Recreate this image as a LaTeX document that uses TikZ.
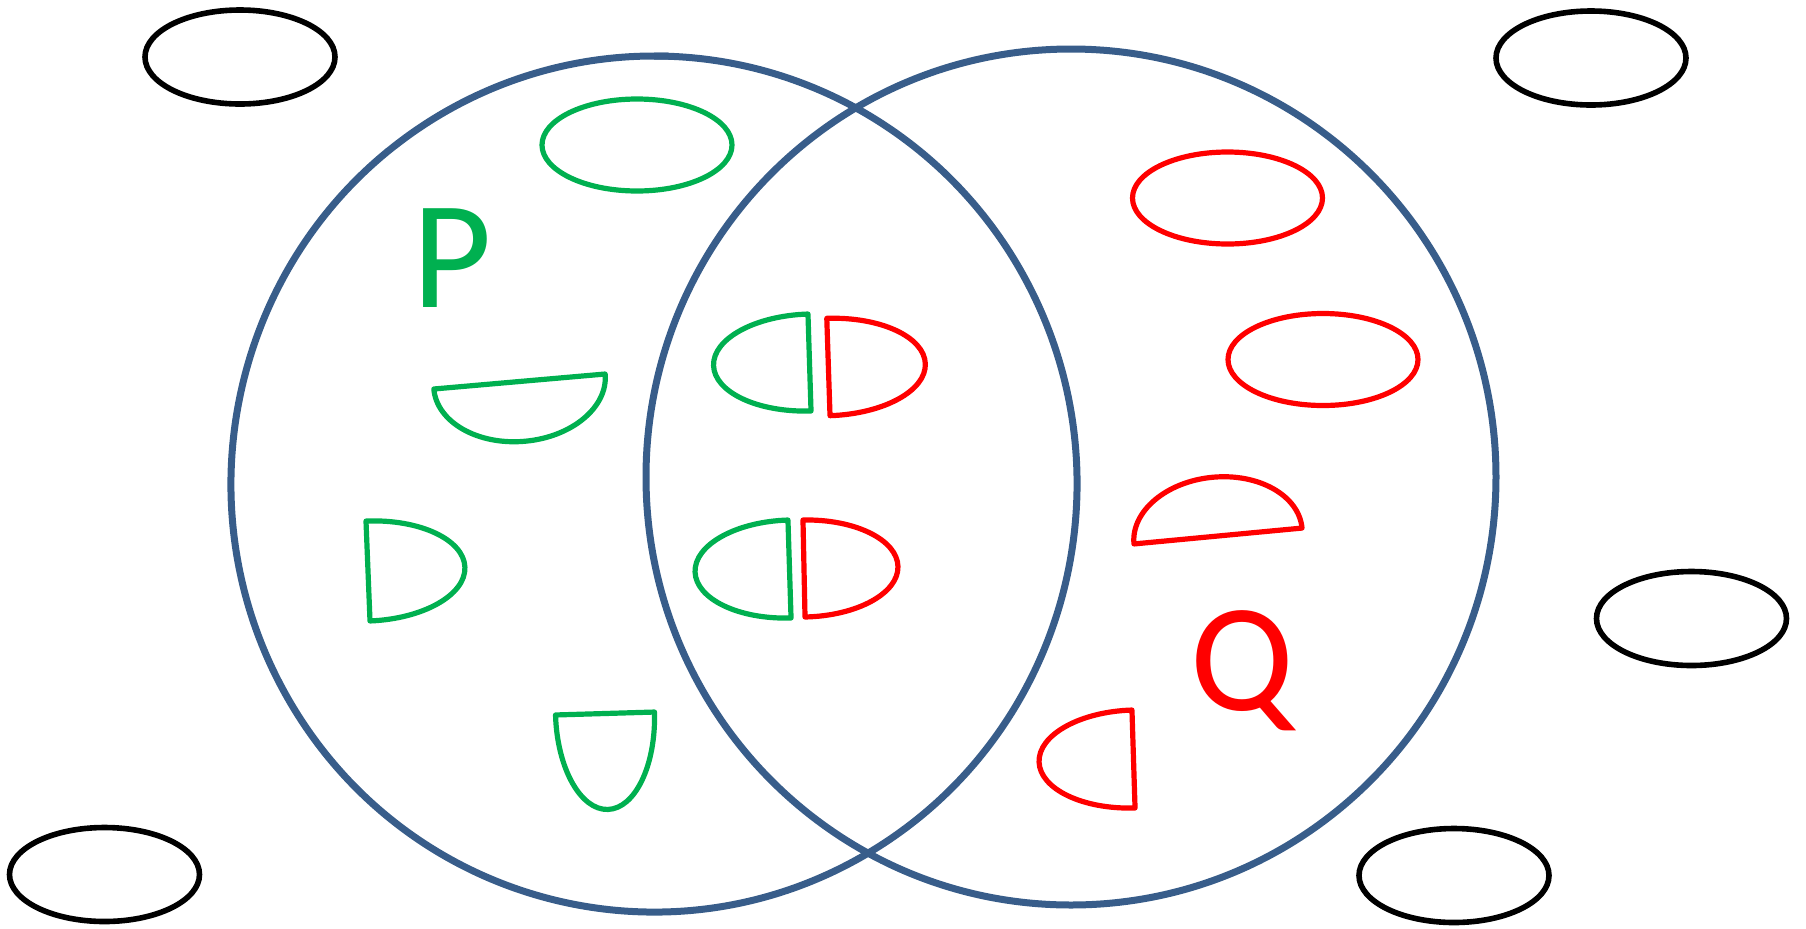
\documentclass[tikz,border=0pt]{standalone}
\usepackage{fontspec}
\setmainfont{Carlito}
\definecolor{vblue}{HTML}{385D8A}
\definecolor{pgreen}{HTML}{00B050}
\definecolor{qred}{HTML}{FF0000}
\tikzset{
 venn/.style={draw=vblue, line width=3.5pt},
 blk/.style={draw=black, line width=2.8pt},
 grn/.style={draw=pgreen, line width=2.6pt, line join=round},
 rd/.style={draw=qred, line width=2.6pt, line join=round},
 lbl/.style={font=\fontsize{77}{80}\selectfont, inner sep=0pt, anchor=base},
}
% #1 style, #2 #3 chord midpoint, #4 rotation, #5 half chord, #6 depth
\newcommand\halfell[6]{\draw[#1, shift={(#2,#3)}, rotate=#4] (#5,0) arc[start angle=0, end angle=180, x radius=#5, y radius=#6] -- cycle;}
\begin{document}
\begin{tikzpicture}[x=0.5pt, y=-0.5pt]
\useasboundingbox (0,0) rectangle (1806,928);
% Venn circles
\coordinate (cP) at (654,484);
\coordinate (cQ) at (1071,477);
\begin{scope}
\clip (0,0) -- (300,0) -- (300,148.5) -- (654,148.5) -- (654,0) -- (1806,0) -- (1806,928) -- (0,928) -- cycle;
\draw[venn] (cP) ++(-120:423 and 428) arc[start angle=-120, end angle=-452, x radius=423, y radius=428];
\end{scope}
\begin{scope}
\clip (300,0) rectangle (700,148.5);
\draw[venn, shift={(5,0)}] (cP) ++(-88:423 and 428) arc[start angle=-88, end angle=-140, x radius=423, y radius=428];
\end{scope}
\draw[venn] (cQ) ellipse[x radius=425, y radius=428];
% black ellipses outside
\draw[blk] (240,57) ellipse[x radius=95, y radius=47];
\draw[blk] (1591,58) ellipse[x radius=95, y radius=47];
\draw[blk] (1691.5,618.5) ellipse[x radius=95, y radius=47];
\draw[blk] (104.5,874.5) ellipse[x radius=95, y radius=47];
\draw[blk] (1454,875.5) ellipse[x radius=95, y radius=47];
% P elements
\draw[grn] (637,145) ellipse[x radius=95, y radius=46];
\halfell{grn}{519.5}{381.5}{5.0}{86}{60}
\halfell{grn}{368}{571}{92.3}{50}{97}
\halfell{grn}{605}{713.5}{1.7}{49.5}{96}
\halfell{grn}{809.5}{362.5}{-88.2}{48.5}{96}
\halfell{grn}{789.5}{569}{-88.2}{49}{94.5}
% Q elements
\draw[rd] (1227.5,198) ellipse[x radius=95, y radius=46];
\draw[rd] (1323,359.5) ellipse[x radius=95, y radius=46];
\halfell{rd}{828.4}{367}{91.9}{48.7}{97}
\halfell{rd}{804}{568.5}{91.2}{48.5}{94}
\halfell{rd}{1218}{536}{-174.6}{84.4}{59}
\halfell{rd}{1133.5}{759}{-88.2}{49}{94.5}
% labels
\node[lbl, text=pgreen] (P) at (452,307) {P};
\node[lbl, text=qred] (Q) at (1242,710) {Q};
\end{tikzpicture}
\end{document}
